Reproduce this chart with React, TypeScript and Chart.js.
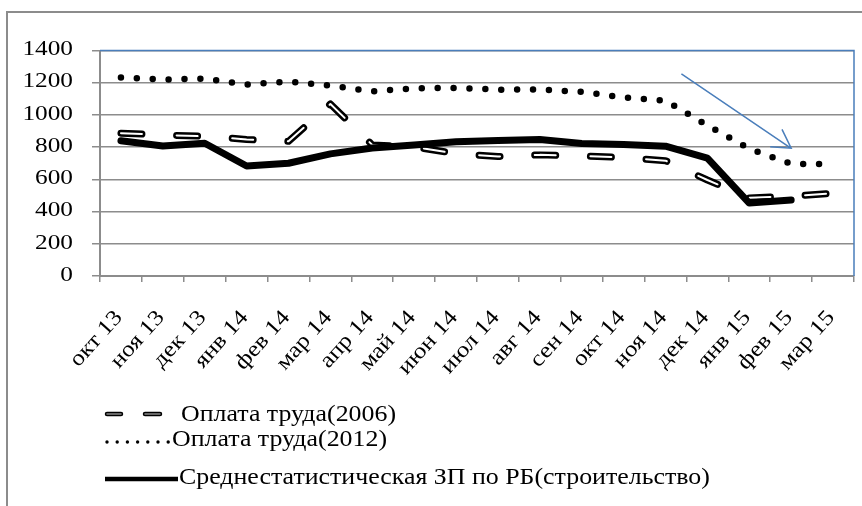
import React, { useEffect, useRef } from 'react';
import { Chart, registerables } from 'chart.js';

Chart.register(...registerables);

// ---- data ----
const categories = [
  'окт 13', 'ноя 13', 'дек 13', 'янв 14', 'фев 14', 'мар 14', 'апр 14', 'май 14', 'июн 14',
  'июл 14', 'авг 14', 'сен 14', 'окт 14', 'ноя 14', 'дек 14', 'янв 15', 'фев 15', 'мар 15',
];
const pay2006 = [887, 876, 867, 848, 836, 1068, 814, 801, 760, 742, 752, 745, 736, 716, 596, 485, 495, 514];
const pay2012 = [1233, 1220, 1225, 1189, 1207, 1183, 1146, 1165, 1168, 1157, 1158, 1143, 1109, 1089, 935, 790, 696, 696];
const avgWage = [840, 807, 824, 683, 700, 758, 795, 814, 834, 842, 847, 823, 816, 806, 732, 453, 472, null];
const seriesNames = [
  'Оплата труда(2006)',
  'Оплата труда(2012)',
  'Среднестатистическая ЗП по РБ(строительство)',
];
const yMin = 0;
const yMax = 1400;
const yStep = 200;
// trend arrow annotation, in data units (category index, value)
const arrowFrom = { x: 13.38, y: 1255 };
const arrowTo = { x: 16.0, y: 793 };

// ---- styles ----
const FONT = '"Liberation Serif", "Times New Roman", serif';
const GRID = '#8c8c8c';
const BLUE = '#4a7ebb';
const LABEL_SX = 1.15;
const Y_FONT = 22;
const X_FONT = 22;
const X_ROT = 48;
const LEGEND_FONT = 22.5;

const labelsPlugin = {
  id: 'customLabels',
  afterDraw(chart: any) {
    const ctx = chart.ctx as CanvasRenderingContext2D;
    const ca = chart.chartArea;
    const xs = chart.scales.x;
    const ys = chart.scales.y;

    // outer frame (cropped)
    ctx.save();
    ctx.strokeStyle = GRID;
    ctx.lineWidth = 2;
    ctx.beginPath();
    ctx.moveTo(7, chart.height + 2);
    ctx.lineTo(7, 12);
    ctx.lineTo(chart.width + 2, 12);
    ctx.stroke();

    // blue top/right frame of the plot
    ctx.strokeStyle = BLUE;
    ctx.lineWidth = 1.5;
    ctx.beginPath();
    ctx.moveTo(ca.left, ca.top);
    ctx.lineTo(ca.right, ca.top);
    ctx.lineTo(ca.right, ca.bottom);
    ctx.stroke();

    // arrow
    const x1 = xs.getPixelForValue(arrowFrom.x);
    const y1 = ys.getPixelForValue(arrowFrom.y);
    const x2 = xs.getPixelForValue(arrowTo.x);
    const y2 = ys.getPixelForValue(arrowTo.y);
    const ang = Math.atan2(y2 - y1, x2 - x1);
    const head = 21;
    const spread = Math.PI / 6;
    ctx.beginPath();
    ctx.moveTo(x1, y1);
    ctx.lineTo(x2, y2);
    ctx.moveTo(x2 - head * Math.cos(ang - spread), y2 - head * Math.sin(ang - spread));
    ctx.lineTo(x2, y2);
    ctx.lineTo(x2 - head * Math.cos(ang + spread), y2 - head * Math.sin(ang + spread));
    ctx.stroke();

    // y labels
    ctx.fillStyle = '#000';
    ctx.font = `${Y_FONT}px ${FONT}`;
    ctx.textAlign = 'right';
    ctx.textBaseline = 'middle';
    ys.ticks.forEach((t: any) => {
      const y = ys.getPixelForValue(t.value);
      ctx.save();
      ctx.translate(ca.left - 27, y - 1);
      ctx.scale(LABEL_SX, 1);
      ctx.fillText(String(t.value), 0, 0);
      ctx.restore();
    });

    // x labels
    ctx.font = `${X_FONT}px ${FONT}`;
    categories.forEach((c, i) => {
      const x = xs.getPixelForValue(i);
      ctx.save();
      ctx.translate(x - 2, ca.bottom + 38);
      ctx.rotate((-X_ROT * Math.PI) / 180);
      ctx.scale(LABEL_SX, 1);
      ctx.fillText(c, 0, 0);
      ctx.restore();
    });

    // legend
    ctx.textAlign = 'left';
    ctx.font = `${LEGEND_FONT}px ${FONT}`;
    const drawLegendText = (s: string, x: number, y: number) => {
      ctx.save();
      ctx.translate(x, y);
      ctx.scale(LABEL_SX, 1);
      ctx.fillText(s, 0, 0);
      ctx.restore();
    };
    // row 1: double dashed sample
    const r1 = 414;
    ctx.lineCap = 'round';
    ctx.strokeStyle = '#000';
    ctx.lineWidth = 4.5;
    ctx.beginPath();
    ctx.moveTo(107, r1); ctx.lineTo(121, r1);
    ctx.moveTo(145, r1); ctx.lineTo(160, r1);
    ctx.stroke();
    ctx.strokeStyle = '#888';
    ctx.lineWidth = 1.5;
    ctx.stroke();
    drawLegendText(seriesNames[0], 181, r1 + 1.5);
    // row 2: dotted sample
    const r2 = 442;
    ctx.fillStyle = '#000';
    for (let k = 0; k < 7; k++) {
      ctx.beginPath();
      ctx.arc(107 + k * 10.2, r2, 1.7, 0, Math.PI * 2);
      ctx.fill();
    }
    drawLegendText(seriesNames[1], 172, r2 - 2);
    // row 3: solid sample
    const r3 = 479;
    ctx.strokeStyle = '#000';
    ctx.lineWidth = 4.5;
    ctx.lineCap = 'butt';
    ctx.beginPath();
    ctx.moveTo(105, r3); ctx.lineTo(178, r3);
    ctx.stroke();
    drawLegendText(seriesNames[2], 179, r3 - 1);
    ctx.restore();
  },
};

export default function App() {
  const canvasRef = useRef<HTMLCanvasElement | null>(null);

  useEffect(() => {
    const canvas = canvasRef.current;
    if (!canvas) return;
    const chart = new Chart(canvas, {
      type: 'line',
      data: {
        labels: categories,
        datasets: [
          {
            label: seriesNames[2],
            data: avgWage,
            borderColor: '#000',
            borderWidth: 7,
            borderJoinStyle: 'round',
            borderCapStyle: 'round',
            pointRadius: 0,
            tension: 0,
            fill: false,
            order: 0,
          },
          {
            label: seriesNames[1],
            data: pay2012,
            borderColor: '#000',
            borderWidth: 6.5,
            borderDash: [0, 15.9],
            borderCapStyle: 'round',
            pointRadius: 0,
            tension: 0,
            fill: false,
            order: 1,
          },
          {
            label: seriesNames[0] + ' inner',
            data: pay2006,
            borderColor: '#ffffff',
            borderWidth: 2,
            borderDash: [21, 34.7],
            borderCapStyle: 'round',
            borderJoinStyle: 'round',
            pointRadius: 0,
            tension: 0,
            fill: false,
            order: 2,
          },
          {
            label: seriesNames[0],
            data: pay2006,
            borderColor: '#000',
            borderWidth: 7,
            borderDash: [21, 34.7],
            borderCapStyle: 'round',
            borderJoinStyle: 'round',
            pointRadius: 0,
            tension: 0,
            fill: false,
            order: 3,
          },
        ],
      },
      options: {
        responsive: false,
        animation: false,
        events: [],
        layout: { padding: { left: 0, top: 50.5, right: 8, bottom: 0 } },
        plugins: { legend: { display: false }, tooltip: { enabled: false } },
        scales: {
          x: {
            type: 'category',
            offset: true,
            grid: {
              display: true,
              drawOnChartArea: false,
              drawTicks: true,
              tickLength: 6,
              color: GRID,
              lineWidth: 1.5,
              offset: true,
            },
            border: { display: true, color: GRID, width: 2 },
            ticks: { display: false },
            afterFit: (s: any) => { s.height = 230; },
          },
          y: {
            min: yMin,
            max: yMax,
            ticks: { stepSize: yStep, display: false },
            grid: { color: GRID, lineWidth: 1.5, drawTicks: true, tickLength: 8 },
            border: { display: true, color: GRID, width: 2 },
            afterFit: (s: any) => { s.width = 100; },
          },
        },
      } as any,
      plugins: [labelsPlugin],
    });
    return () => chart.destroy();
  }, []);

  return (
    <div style={{ position: 'absolute', left: 0, top: 0, width: 862, height: 506, background: '#fff' }}>
      <canvas ref={canvasRef} width={862} height={506} style={{ display: 'block' }} />
    </div>
  );
}
